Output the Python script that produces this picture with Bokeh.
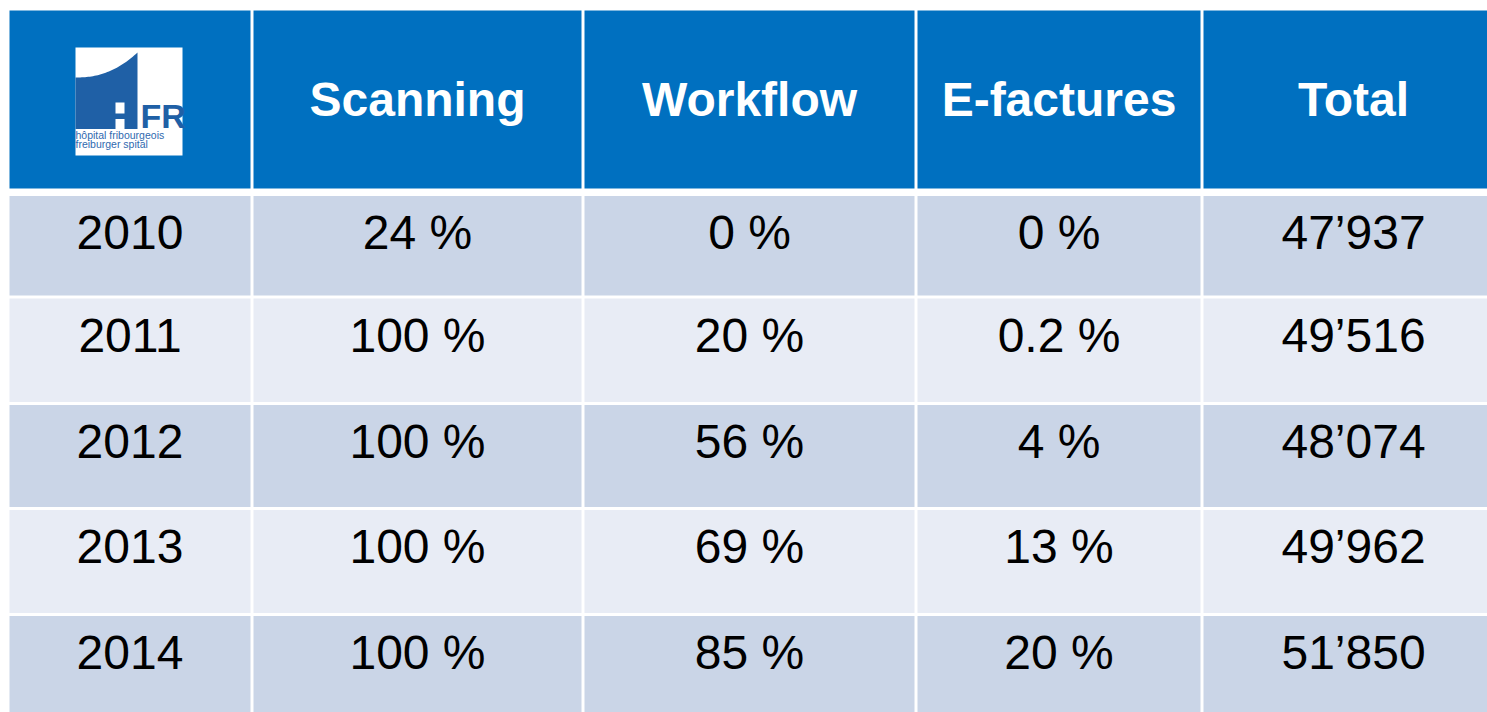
import numpy as np
from bokeh.plotting import figure
from bokeh.models import Range1d
from bokeh.core.properties import value
from bokeh.embed import file_html
from bokeh.resources import INLINE

# ---- data ----
headers = ["Scanning", "Workflow", "E-factures", "Total"]
years = ["2010", "2011", "2012", "2013", "2014"]
scanning = [24, 100, 100, 100, 100]
workflow = [0, 20, 56, 69, 85]
efactures = [0, 0.2, 4, 13, 20]
total = [47937, 49516, 48074, 49962, 51850]

# ---- layout (screen pixel coordinates) ----
col_left = [9, 253, 584, 917, 1203]
col_right = [250, 581, 914, 1200, 1503]
col_center = [129.5, 417, 749, 1058.5, 1353]
head_top, head_bot = 10, 188
row_top = [195.5, 298, 404.5, 509.5, 615.5]
row_bot = [295, 401.5, 506.5, 612.5, 718]

HEAD = "#0070C0"
DARK = "#CAD5E7"
LIGHT = "#E8ECF5"
FONT = value("Liberation Sans")
SHIFT = 0.385  # baseline correction (em) for the svg text renderer

p = figure(width=1487, height=712, x_range=Range1d(0, 1487), y_range=Range1d(712, 0),
           output_backend="svg", toolbar_location=None, min_border=0,
           x_axis_type=None, y_axis_type=None)
p.grid.visible = False
p.outline_line_color = None
p.background_fill_color = "white"
p.border_fill_color = "white"

# header cells
p.quad(left=col_left, right=col_right, top=[head_top] * 5, bottom=[head_bot] * 5,
       fill_color=HEAD, line_color=None)

# body cells
L, R, T, B, C = [], [], [], [], []
for i in range(len(years)):
    for j in range(5):
        L.append(col_left[j]); R.append(col_right[j])
        T.append(row_top[i]); B.append(row_bot[i])
        C.append(DARK if i % 2 == 0 else LIGHT)
p.quad(left=L, right=R, top=T, bottom=B, fill_color=C, line_color=None)

# header texts
p.text(x=col_center[1:], y=[117.5 - SHIFT * 48] * 4, text=headers, text_align="center",
       text_baseline="alphabetic", text_font=FONT, text_font_size="48px",
       text_font_style="bold", text_color="white")

# body texts
def pct(v):
    return f"{v:g} %"

def thousands(v):
    return f"{v:,}".replace(",", "\u2019")

tx, ty, tt = [], [], []
for i in range(len(years)):
    base = row_top[i] + 55 - SHIFT * 48
    cells = [years[i], pct(scanning[i]), pct(workflow[i]), pct(efactures[i]), thousands(total[i])]
    for j, s in enumerate(cells):
        tx.append(col_center[j]); ty.append(base); tt.append(s)
p.text(x=tx, y=ty, text=tt, text_align="center", text_baseline="alphabetic",
       text_font=FONT, text_font_size="48px", text_color="black")

# ---- HFR logo ----
LOGO = "#1F60A6"
p.quad(left=[75], right=[182], top=[47], bottom=[155], fill_color="white", line_color=None)
t = np.linspace(0, 1, 40)
cx = 75 + 62 * t
cy = 77 - 25 * t ** 2.3
xs = list(cx) + [137, 75]
ys = list(cy) + [128.5, 128.5]
p.patch(xs, ys, fill_color=LOGO, line_color=None)
# white notches forming the H
p.quad(left=[115, 115], right=[124, 124], top=[102, 118.5], bottom=[113, 128.5],
       fill_color="white", line_color=None)
p.text(x=[140], y=[128.5 - SHIFT * 34], text=["FR"], text_align="left", text_baseline="alphabetic",
       text_font=FONT, text_font_size="34px", text_font_style="bold", text_color=LOGO)
p.text(x=[75, 75], y=[139 - SHIFT * 10.5, 147.5 - SHIFT * 10.5],
       text=["hôpital fribourgeois", "freiburger spital"],
       text_align="left", text_baseline="alphabetic", text_font=FONT,
       text_font_size="10.5px", text_color="#2F6AAF")

open("out.html", "w").write(file_html(p, INLINE))
